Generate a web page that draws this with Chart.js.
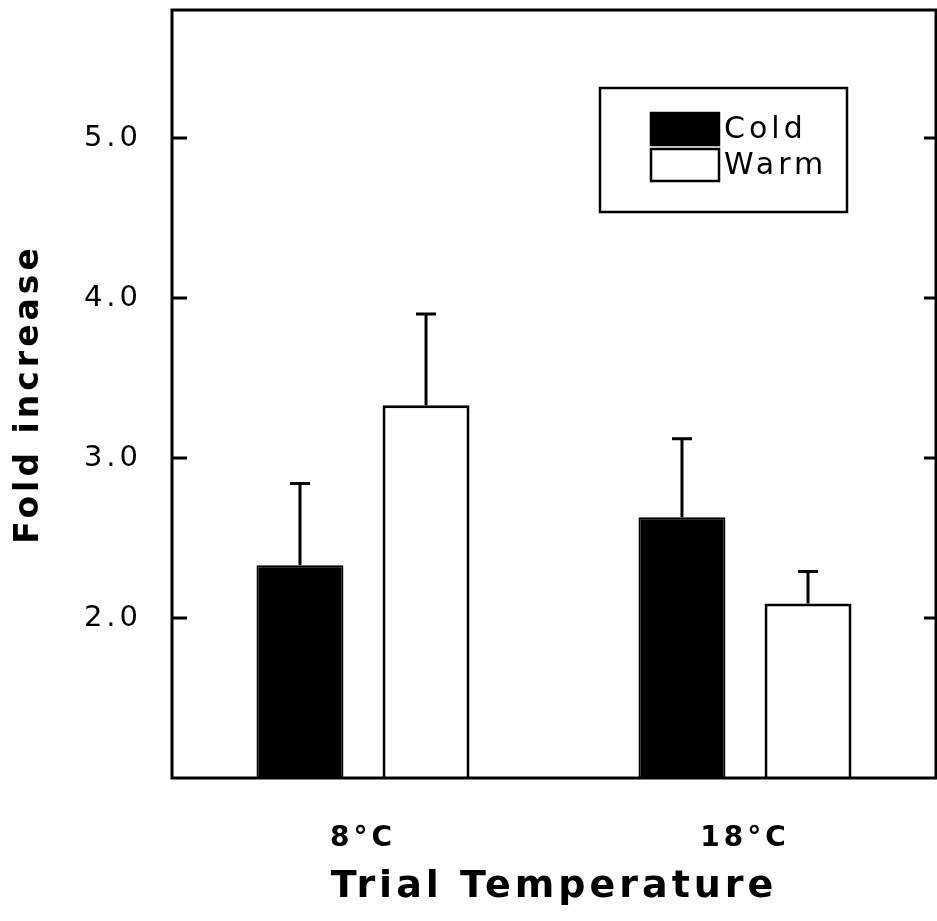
<!DOCTYPE html>
<html>
<head>
<meta charset="utf-8">
<script src="https://cdn.jsdelivr.net/npm/chart.js@4.4.1/dist/chart.umd.min.js"></script>
<style>
  html, body { margin: 0; padding: 0; background: #fff; overflow: hidden; }
  #wrap { width: 937px; height: 921px; }
</style>
</head>
<body>
<div id="wrap"><canvas id="chart" width="937" height="921"></canvas></div>
<script>
const categories = ['8°C', '18°C'];
const coldValues = [2.33, 2.63];
const coldErrors = [0.51, 0.49];
const warmValues = [3.33, 2.09];
const warmErrors = [0.57, 0.20];
const yTicks = [2, 3, 4, 5];

const fontFamily = '"DejaVu Sans", sans-serif';

// frame, inward ticks, error bars and the boxed legend
const extras = {
  id: 'extras',
  beforeDraw(chart) {
    // the original lettering is widely spaced
    chart.ctx.letterSpacing = '4px';
  },
  afterDatasetsDraw(chart) {
    const ctx = chart.ctx;
    const area = chart.chartArea;
    const y = chart.scales.y;
    ctx.save();
    ctx.strokeStyle = '#000';
    ctx.lineWidth = 3;
    ctx.strokeRect(area.left, area.top, area.right - area.left, area.bottom - area.top);

    yTicks.forEach(v => {
      const py = y.getPixelForValue(v);
      ctx.beginPath();
      ctx.moveTo(area.left, py);
      ctx.lineTo(area.left + 15, py);
      ctx.moveTo(area.right, py);
      ctx.lineTo(area.right - 12, py);
      ctx.stroke();
    });

    const errs = [coldErrors, warmErrors];
    chart.data.datasets.forEach((ds, di) => {
      chart.getDatasetMeta(di).data.forEach((bar, i) => {
        const top = y.getPixelForValue(ds.data[i] + errs[di][i]);
        ctx.lineWidth = 3;
        ctx.beginPath();
        ctx.moveTo(bar.x, bar.y);
        ctx.lineTo(bar.x, top);
        ctx.moveTo(bar.x - 10, top);
        ctx.lineTo(bar.x + 10, top);
        ctx.stroke();
      });
    });

    // legend box
    const lx = 600, ly = 88, lw = 247, lh = 124;
    ctx.lineWidth = 2.5;
    ctx.strokeRect(lx, ly, lw, lh);
    ctx.font = '30px ' + fontFamily;
    ctx.textBaseline = 'middle';
    chart.data.datasets.forEach((ds, di) => {
      const sy = ly + 25 + di * 36;
      ctx.fillStyle = ds.backgroundColor;
      ctx.fillRect(651, sy, 68, 32);
      ctx.lineWidth = 2.5;
      ctx.strokeRect(651, sy, 68, 32);
      ctx.fillStyle = '#000';
      ctx.fillText(ds.label, 724, sy + 17);
    });
    ctx.restore();
  }
};

new Chart(document.getElementById('chart'), {
  type: 'bar',
  data: {
    labels: categories,
    datasets: [
      {
        label: 'Cold',
        data: coldValues,
        backgroundColor: '#000',
        borderColor: '#000',
        borderWidth: 2
      },
      {
        label: 'Warm',
        data: warmValues,
        backgroundColor: '#fff',
        borderColor: '#000',
        borderWidth: 3
      }
    ]
  },
  options: {
    responsive: false,
    animation: false,
    layout: { padding: { top: 10, right: 1, left: 0, bottom: 0 } },
    categoryPercentage: 0.66,
    barPercentage: 0.69,
    plugins: {
      legend: { display: false },
      tooltip: { enabled: false }
    },
    scales: {
      x: {
        grid: { display: false, drawTicks: false },
        border: { display: false },
        ticks: {
          color: '#000',
          padding: 44,
          font: { family: fontFamily, size: 28, weight: 'bold' }
        },
        title: {
          display: true,
          text: 'Trial Temperature',
          color: '#000',
          padding: { top: 8, bottom: 11 },
          font: { family: fontFamily, size: 38, weight: 'bold' }
        },
        afterFit(scale) { scale.height = 143; }
      },
      y: {
        min: 1,
        max: 5.8,
        grid: { display: false, drawTicks: false },
        border: { display: false },
        afterBuildTicks(scale) {
          scale.ticks = yTicks.map(v => ({ value: v }));
        },
        ticks: {
          color: '#000',
          padding: 30,
          font: { family: fontFamily, size: 29 },
          callback: v => Number(v).toFixed(1)
        },
        title: {
          display: true,
          text: 'Fold increase',
          color: '#000',
          padding: { top: 10, bottom: 0 },
          font: { family: fontFamily, size: 33, weight: 'bold' }
        },
        afterFit(scale) {
          scale.width = 172;
          scale.paddingTop = 0;
          scale.paddingBottom = 0;
        }
      }
    }
  },
  plugins: [extras]
});
</script>
</body>
</html>
